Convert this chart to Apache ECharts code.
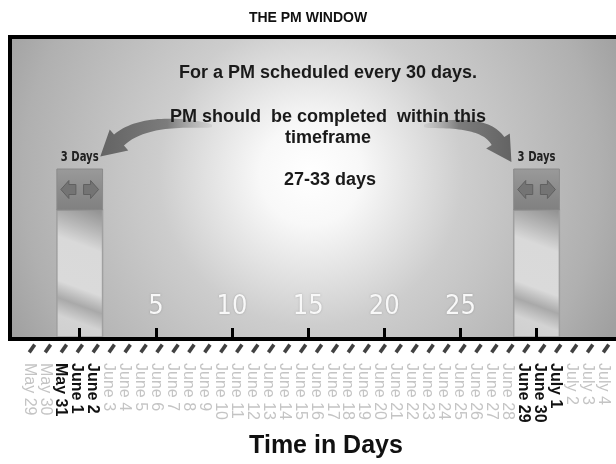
<!DOCTYPE html>
<html><head><meta charset="utf-8">
<script src="https://cdn.jsdelivr.net/npm/echarts@6/dist/echarts.min.js"></script>
<style>html,body{margin:0;padding:0;background:#fff}#c{width:616px;height:464px}</style>
</head><body><div id="c"></div>
<script>
// ---- data ----
const dateLabels = ['May 29','May 30','May 31','June 1','June 2','June 3','June 4','June 5','June 6','June 7',
  'June 8','June 9','June 10','June 11','June 12','June 13','June 14','June 15','June 16','June 17',
  'June 18','June 19','June 20','June 21','June 22','June 23','June 24','June 25','June 26','June 27',
  'June 28','June 29','June 30','July 1','July 2','July 3','July 4'];
const boldDates = ['May 31','June 1','June 2','June 29','June 30','July 1'];
const dayTicks = [0, 5, 10, 15, 20, 25, 30];
const dayTickLabels = [5, 10, 15, 20, 25];
const windowCenters = [0, 30];
const windowWidthDays = [3, 3];
const windowLabels = ['3 Days', '3 Days'];
const titleText = 'THE PM WINDOW';
const noteLines = ['For a PM scheduled every 30 days.', 'PM should  be completed  within this', 'timeframe', '27-33 days'];
const axisTitle = 'Time in Days';

// ---- drawing ----
const NARROW = '"Liberation Sans Narrow","Arial Narrow","DejaVu Sans Condensed",sans-serif';
const SANS = '"Liberation Sans",Arial,sans-serif';

function swoosh(tail, ctrl, base, headLen, tailHalf, baseHalf, headHalf) {
  const N = 30, left = [], right = [];
  for (let i = 0; i <= N; i++) {
    const t = i / N, mt = 1 - t;
    const px = mt*mt*tail[0] + 2*mt*t*ctrl[0] + t*t*base[0];
    const py = mt*mt*tail[1] + 2*mt*t*ctrl[1] + t*t*base[1];
    let dx = 2*mt*(ctrl[0]-tail[0]) + 2*t*(base[0]-ctrl[0]);
    let dy = 2*mt*(ctrl[1]-tail[1]) + 2*t*(base[1]-ctrl[1]);
    const L = Math.hypot(dx, dy); dx /= L; dy /= L;
    const h = tailHalf + (baseHalf - tailHalf) * Math.pow(t, 0.5);
    left.push([px - dy*h, py + dx*h]);
    right.push([px + dy*h, py - dx*h]);
  }
  const ex = base[0]-ctrl[0], ey = base[1]-ctrl[1], EL = Math.hypot(ex, ey);
  const ux = ex/EL, uy = ey/EL;
  const tip = [base[0]+ux*headLen, base[1]+uy*headLen];
  const hl = [base[0]-uy*headHalf, base[1]+ux*headHalf];
  const hr = [base[0]+uy*headHalf, base[1]-ux*headHalf];
  return left.concat([hl, tip, hr], right.reverse());
}

const windowData = windowCenters.map((c, i) => [c - windowWidthDays[i]/2, c + windowWidthDays[i]/2, windowLabels[i]]);

const chart = echarts.init(document.getElementById('c'), null, {renderer: 'canvas'});

const richLabel = {
  l: {color: '#c4c4c4', fontSize: 16, fontFamily: SANS},
  b: {color: '#111', fontSize: 16, fontWeight: 'bold', fontFamily: SANS}
};

const arrowFill = (dir) => ({type: 'linear', x: dir ? 0 : 1, y: 0, x2: dir ? 1 : 0, y2: 0, colorStops: [
  {offset: 0, color: 'rgba(170,170,170,0.25)'}, {offset: 0.4, color: '#7c7c7c'}, {offset: 1, color: '#636363'}]});

const option = {
  animation: false,
  backgroundColor: '#fff',
  title: {
    text: titleText, left: 'center', top: 6,
    textStyle: {fontSize: 14, fontWeight: 'bold', color: '#111', fontFamily: SANS}
  },
  grid: [
    {left: 21, right: 5, top: 341, bottom: 108},
    {left: 11.2, right: 3.3, top: 37, bottom: 125}
  ],
  xAxis: [
    {
      gridIndex: 0, type: 'category', data: dateLabels, boundaryGap: true,
      axisLine: {show: false}, axisTick: {show: false}, splitLine: {show: false},
      axisLabel: {
        interval: 0, rotate: -90, margin: 7,
        formatter: v => boldDates.includes(v) ? '{b|' + v + '}' : '{l|' + v + '}',
        rich: richLabel
      },
      name: axisTitle, nameLocation: 'middle', nameGap: 78,
      nameTextStyle: {fontSize: 25, fontWeight: 'bold', color: '#111', fontFamily: SANS, padding: [0, 0, 0, 20]}
    },
    {
      gridIndex: 1, type: 'value', min: -4.5, max: 35, z: 10,
      axisLine: {show: true, lineStyle: {color: '#000', width: 4}},
      axisTick: {show: true, inside: true, length: 11, customValues: dayTicks, lineStyle: {color: '#000', width: 3}},
      axisLabel: {
        show: true, inside: true, margin: 19, customValues: dayTickLabels,
        color: '#f8f8f8', fontSize: 27, fontFamily: NARROW, verticalAlign: 'bottom',
        textShadowColor: 'rgba(0,0,0,0.25)', textShadowBlur: 2
      },
      splitLine: {show: false}
    }
  ],
  yAxis: [
    {gridIndex: 0, type: 'value', min: 0, max: 1, show: false},
    {gridIndex: 1, type: 'value', min: 0, max: 1, show: false}
  ],
  graphic: [
    {
      type: 'rect', z: -10, x: 12, y: 39,
      shape: {x: 0, y: 0, width: 610, height: 300},
      style: {
        fill: {type: 'radial', x: 0.49, y: 0.45, r: 1.13, colorStops: [
          {offset: 0, color: '#ffffff'}, {offset: 0.15, color: '#f8f8f8'},
          {offset: 0.45, color: '#cdcdcd'}, {offset: 0.85, color: '#b0b0b0'}, {offset: 1, color: '#a0a0a0'}]}
      }
    },
    {
      type: 'rect', z: 30, x: 10, y: 37,
      shape: {x: 0, y: 0, width: 640, height: 302},
      style: {fill: 'none', stroke: '#000', lineWidth: 4}
    },
    {
      type: 'polygon', z: 5,
      shape: {points: swoosh([212, 126], [145, 117], [119, 140], 25, 1.2, 7.5, 14)},
      style: {fill: arrowFill(false)}
    },
    {
      type: 'polygon', z: 5,
      shape: {points: swoosh([424, 126], [484, 119], [498, 141], 25, 1.2, 7.5, 14)},
      style: {fill: arrowFill(true)}
    },
    {type: 'text', z: 6, x: 328, y: 73, style: {text: noteLines[0], align: 'center', verticalAlign: 'middle', font: 'bold 18px ' + SANS, fill: '#1a1a1a'}},
    {type: 'text', z: 6, x: 328, y: 117, style: {text: noteLines[1], align: 'center', verticalAlign: 'middle', font: 'bold 18px ' + SANS, fill: '#1a1a1a'}},
    {type: 'text', z: 6, x: 328, y: 138, style: {text: noteLines[2], align: 'center', verticalAlign: 'middle', font: 'bold 18px ' + SANS, fill: '#1a1a1a'}},
    {type: 'text', z: 6, x: 330, y: 180, style: {text: noteLines[3], align: 'center', verticalAlign: 'middle', font: 'bold 18px ' + SANS, fill: '#1a1a1a'}}
  ],
  series: [
    {
      type: 'scatter', xAxisIndex: 0, yAxisIndex: 0, silent: true,
      data: dateLabels.map(d => [d, 0.5]),
      symbol: 'rect', symbolSize: [3.6, 9.5], symbolRotate: -35, symbolOffset: [3, 0],
      itemStyle: {color: '#111'}
    },
    {
      type: 'custom', xAxisIndex: 1, yAxisIndex: 1, silent: true, z: 3,
      data: windowData,
      renderItem: function (params, api) {
        const x0 = api.coord([api.value(0), 0])[0];
        const x1 = api.coord([api.value(1), 0])[0];
        const w = x1 - x0, cx = (x0 + x1) / 2;
        const boxTop = 169, boxBot = 210, colBot = 337, cy = (boxTop + boxBot) / 2;
        const arrowL = [[x0+4, cy], [x0+12, cy-9], [x0+12, cy-5], [x0+19, cy-5], [x0+19, cy+5], [x0+12, cy+5], [x0+12, cy+9]];
        const arrowR = arrowL.map(p => [x0 + x1 - p[0], p[1]]);
        return {
          type: 'group',
          children: [
            {type: 'rect', shape: {x: x0, y: boxBot, width: w, height: colBot - boxBot},
              style: {fill: {type: 'linear', x: 1, y: 0, x2: 0, y2: 1, colorStops: [
                {offset: 0, color: '#8e8e8e'}, {offset: 0.18, color: '#bababa'}, {offset: 0.3, color: '#d9d9d9'},
                {offset: 0.6, color: '#dadada'}, {offset: 0.72, color: '#a9a9a9'}, {offset: 0.84, color: '#d3d3d3'},
                {offset: 1, color: '#cfcfcf'}]}, stroke: '#a0a0a0', lineWidth: 1.5}},
            {type: 'rect', shape: {x: x0, y: boxTop, width: w, height: boxBot - boxTop},
              style: {fill: {type: 'linear', x: 0, y: 0, x2: 0, y2: 1, colorStops: [
                {offset: 0, color: '#9a9a9a'}, {offset: 0.5, color: '#8c8c8c'}, {offset: 1, color: '#808080'}]},
                stroke: '#8a8a8a', lineWidth: 1}},
            {type: 'polygon', shape: {points: arrowL}, style: {fill: '#747474', stroke: '#606060', lineWidth: 1}},
            {type: 'polygon', shape: {points: arrowR}, style: {fill: '#747474', stroke: '#606060', lineWidth: 1}},
            {type: 'text', x: cx, y: 157, scaleX: 0.8, style: {text: api.value(2), x: 0, y: 0, align: 'center', verticalAlign: 'middle',
              font: 'bold 14px ' + NARROW, fill: '#222'}}
          ]
        };
      }
    }
  ]
};
chart.setOption(option);
</script>
</body></html>
